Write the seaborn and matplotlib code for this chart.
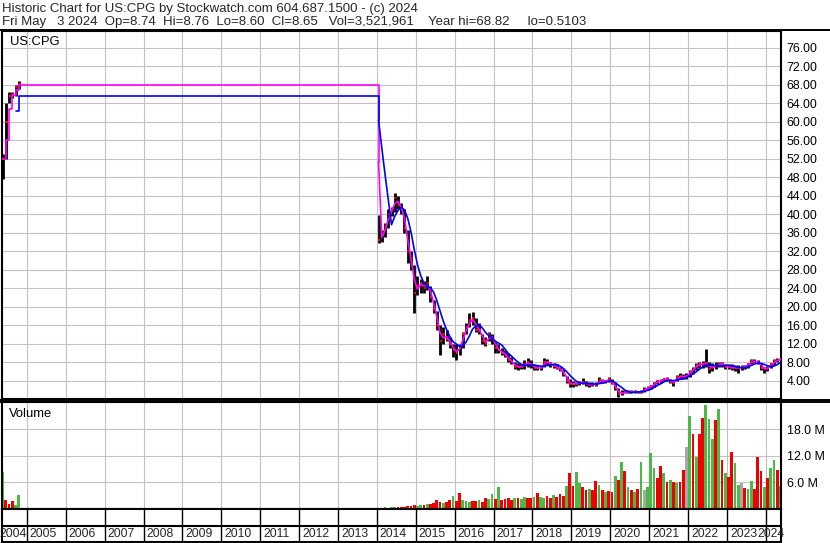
import numpy as np
import pandas as pd
import seaborn as sns
import matplotlib.pyplot as plt
from matplotlib.lines import Line2D

# monthly values (2004 stub, then 2014 -> May 2024)
months = pd.period_range('2004-05', '2004-10', freq='M').append(
    pd.period_range('2014-01', '2024-05', freq='M'))

close = [52.0, 60.0, 65.5, 66.0, 67.5, 68.2,
         34.5, 35.5, 37.5, 40.0, 41.0, 43.5, 42.0, 41.0, 37.0, 32.0, 29.0, 23.0,
         24.5, 25.0, 24.0, 25.0, 22.0, 19.5, 16.0, 12.5, 14.0, 13.0, 12.0, 10.5,
         10.0, 11.5, 14.0, 15.5, 17.0, 17.5, 15.0, 15.0, 12.5, 12.0, 14.0, 13.0,
         11.0, 10.5, 10.0, 9.5, 8.5, 8.0, 7.0, 7.0, 7.0, 7.5, 8.0, 7.3,
         6.8, 6.6, 6.8, 8.0, 8.0, 7.3, 7.2, 6.8, 6.3, 5.5, 4.0, 3.2,
         3.3, 3.3, 3.5, 3.6, 3.2, 3.0, 3.2, 3.1, 4.1, 3.8, 3.9, 4.3,
         3.5, 2.3, 1.0, 1.4, 1.5, 1.5, 1.5, 1.6, 1.5, 1.6, 2.2, 2.4,
         2.8, 3.4, 3.8, 4.0, 4.4, 4.3, 3.7, 3.5, 4.7, 5.0, 4.8, 5.0,
         5.8, 6.5, 7.3, 7.5, 7.6, 7.8, 6.5, 7.0, 7.2, 7.6, 7.6, 7.0,
         7.0, 6.7, 6.8, 6.6, 6.9, 7.0, 7.6, 8.2, 8.1, 7.9, 6.8, 6.4,
         6.7, 7.5, 8.2, 8.4, 8.65]

high = [53.0, 64.0, 66.4, 66.5, 68.0, 68.8,
        39.8, 36.5, 38.0, 41.0, 41.5, 44.5, 44.0, 42.5, 41.0, 36.5, 32.0, 29.0,
        26.5, 26.0, 25.5, 26.7, 24.5, 21.5, 19.0, 16.0, 15.5, 15.0, 13.5, 12.0,
        12.0, 12.0, 14.5, 16.5, 18.6, 18.8, 17.5, 16.4, 14.0, 13.5, 14.5, 14.0,
        12.5, 12.0, 11.0, 10.5, 10.0, 9.0, 8.0, 7.8, 7.5, 8.4, 8.9, 8.5,
        7.5, 7.3, 7.2, 8.9, 8.6, 8.0, 7.8, 7.5, 7.0, 6.5, 5.0, 4.3,
        3.8, 3.7, 3.9, 4.5, 3.8, 3.6, 3.6, 3.7, 4.8, 4.3, 4.2, 4.8,
        4.4, 3.6, 2.3, 1.9, 1.9, 2.0, 1.9, 1.9, 1.8, 1.9, 2.5, 2.8,
        3.1, 3.6, 4.2, 4.3, 4.6, 4.8, 4.3, 4.0, 5.2, 5.6, 5.4, 5.6,
        6.2, 7.0, 7.8, 7.9, 8.2, 10.8, 8.0, 7.8, 8.0, 8.1, 8.1, 7.6,
        7.6, 7.5, 7.3, 7.3, 7.3, 7.4, 7.8, 8.6, 8.6, 8.5, 7.8, 7.0,
        7.2, 7.7, 8.6, 8.9, 8.76]

low = [47.5, 52.0, 64.0, 65.0, 65.5, 67.0,
       33.7, 34.0, 35.0, 37.0, 39.5, 40.5, 41.0, 40.0, 36.0, 29.5, 28.0, 18.6,
       22.5, 23.0, 23.0, 23.5, 21.0, 18.6, 15.0, 9.5, 12.0, 12.5, 11.0, 9.0,
       8.5, 9.5, 11.0, 14.0, 15.5, 16.0, 14.5, 14.0, 12.0, 11.5, 12.5, 12.0,
       10.0, 10.0, 9.5, 9.0, 8.0, 7.5, 6.5, 6.3, 6.5, 6.5, 7.0, 6.8,
       6.3, 6.3, 6.3, 7.0, 7.3, 7.0, 6.8, 6.5, 6.0, 5.0, 3.5, 2.6,
       2.7, 2.9, 3.0, 3.2, 2.8, 2.7, 2.8, 2.8, 3.4, 3.4, 3.5, 3.7,
       3.3, 2.0, 0.5, 0.9, 1.2, 1.3, 1.3, 1.4, 1.3, 1.3, 1.6, 2.0,
       2.2, 2.7, 3.2, 3.5, 3.8, 3.9, 3.4, 2.9, 3.9, 4.4, 4.3, 4.3,
       4.8, 5.5, 6.3, 6.6, 6.8, 7.0, 5.6, 6.0, 6.4, 7.0, 6.9, 6.4,
       6.4, 6.2, 6.1, 5.6, 6.3, 6.4, 6.6, 7.6, 7.8, 7.6, 6.2, 5.7,
       6.0, 6.6, 7.3, 8.0, 8.6]

# volume in millions, colour per bar: g = up, r = down, n = unchanged
volume = [8.4, 2.0, 1.2, 1.8, 1.0, 3.2,
          0.3, 0.3, 0.4, 0.3, 0.4, 0.5, 0.4, 0.4, 0.5, 0.6, 0.6, 0.8,
          0.6, 0.8, 1.0, 1.1, 1.2, 1.4, 2.0, 1.6, 1.4, 1.6, 2.0, 3.0,
          1.8, 3.6, 2.0, 1.8, 1.6, 1.7, 1.8, 2.0, 1.6, 2.6, 2.2, 3.3,
          2.2, 5.0, 2.0, 2.3, 2.5, 2.0, 2.4, 2.6, 2.3, 2.8, 2.5, 2.6,
          2.8, 3.6, 2.8, 2.6, 3.0, 2.5, 3.2, 2.8, 3.4, 3.0, 5.2, 8.1,
          5.1, 8.3, 5.8, 5.0, 4.3, 4.5, 4.2, 6.3, 5.4, 4.4, 3.8, 4.0,
          3.8, 7.5, 6.5, 10.7, 8.5, 5.0, 4.3, 3.8, 4.6, 10.7, 4.4, 5.0,
          12.6, 9.2, 7.0, 9.8, 8.1, 6.2, 6.5, 6.0, 5.8, 6.0, 8.9, 14.1,
          21.1, 16.9, 11.8, 17.0, 20.6, 23.5, 20.4, 15.8, 20.2, 22.6, 11.1, 8.1,
          7.3, 12.8, 10.3, 5.5, 5.8, 4.8, 4.6, 6.3, 4.5, 11.8, 8.6, 5.0,
          7.0, 9.2, 11.1, 8.9, 5.1]
vol_dir = ("grrrgg" "rgggggrrrrrr" "ggrgrrrrgrrg" "rrgggrrgrrgg" "rgrrrrgrggrr"
           "grggrrgrrrgr" "rggrrgrrgrgr" "rgrgrgrgrgng" "ggrrgrgrgrrn"
           "grgrrgggrgrg" "rrggnrggrrrg" "rggrg")

price_ticks = list(range(4, 80, 4))
vol_ticks = [6, 12, 18]
years = list(range(2005, 2025))
header1 = 'Historic Chart for US:CPG by Stockwatch.com 604.687.1500 - (c) 2024'
header2 = ('Fri May   3 2024  Op=8.74  Hi=8.76  Lo=8.60  Cl=8.65   '
           'Vol=3,521,961    Year hi=68.82     lo=0.5103')

df = pd.DataFrame({'close': close, 'high': high, 'low': low, 'vol': volume})
df['t'] = months.year + (months.month - 0.5) / 12
df['ma_fast'] = df['close'].rolling(2, min_periods=1).mean()
df['ma_slow'] = df['close'].rolling(5).mean()
cmap = {'g': '#4cb848', 'r': '#f00000', 'n': '#a8a8a8'}
df['col'] = [cmap[c] for c in vol_dir]
n_old = 6  # rows before the 2004-2014 gap

sns.set_theme(style='white')
plt.rcParams['font.family'] = ['Liberation Sans', 'DejaVu Sans']

W, H = 830, 543
fig = plt.figure(figsize=(W / 100, H / 100), dpi=100)


def box(x0, y0, x1, y1):
    return [x0 / W, 1 - y1 / H, (x1 - x0) / W, (y1 - y0) / H]


ax = fig.add_axes(box(2, 31, 781, 399))
axv = fig.add_axes(box(2, 402, 781, 509))
axs = fig.add_axes(box(2, 509, 781, 542))
xlim = (2004.36, 2024.39)
gcol = '#c2c2c2'

for a in (ax, axv, axs):
    a.set_xlim(*xlim)
    for s in a.spines.values():
        s.set_color('black')
        s.set_linewidth(1.5)
        s.set_visible(True)


def grid_lines(a, yticks, ytop):
    # plain Line2D segments so they behave like the other lines
    for yv in yticks:
        a.plot([xlim[0], xlim[1]], [yv, yv], color=gcol, lw=0.8, zorder=1.5,
               solid_capstyle='butt')
    for xv in years:
        a.plot([xv, xv], [0, ytop], color=gcol, lw=0.8, zorder=1.5,
               solid_capstyle='butt')


# price panel
grid_lines(ax, price_ticks, 79.6)
ax.vlines(df['t'], df['low'], df['high'], color='black', lw=2.0, zorder=2)
ax.hlines(df['close'], df['t'] - 0.01, df['t'] + 0.045, color='red', lw=1.5, zorder=3)

# moving averages: held flat across the data gap, then plain lines
old = df.iloc[:n_old + 1]
new = df.iloc[n_old:]
for col, colour, z in (('ma_fast', '#ff00ff', 4), ('ma_slow', '#0000ff', 5)):
    sns.lineplot(data=old.dropna(subset=[col]), x='t', y=col, ax=ax, color=colour,
                 lw=1.2, drawstyle='steps-post', estimator=None, zorder=z)
    sns.lineplot(data=new, x='t', y=col, ax=ax, color=colour, lw=1.2,
                 estimator=None, zorder=z)

ax.set_xlim(*xlim)
ax.set_ylim(0, 79.6)
ax.set_xticks([])
ax.set_yticks(price_ticks)
ax.set_yticklabels([f'{v:.2f}' for v in price_ticks])
ax.yaxis.tick_right()
ax.tick_params(axis='y', length=0, pad=4.0, labelsize=8.9, labelcolor='black')
ax.set_xlabel('')
ax.set_ylabel('')
ax.text(8 / 779, 1 - 11 / 368, 'US:CPG', transform=ax.transAxes,
        fontsize=9.4, va='center', ha='left', color='black')

# volume panel
grid_lines(axv, vol_ticks, 24.2)
axv.bar(df['t'], df['vol'], width=0.85 / 12, color=df['col'], linewidth=0, zorder=2)
axv.set_xlim(*xlim)
axv.set_ylim(0, 24.2)
axv.set_xticks([])
axv.set_yticks(vol_ticks)
axv.set_yticklabels([f'{v:.1f} M' for v in vol_ticks])
axv.yaxis.tick_right()
axv.tick_params(axis='y', length=0, pad=4.0, labelsize=8.9, labelcolor='black')
axv.text(7 / 779, 1 - 12 / 107, 'Volume', transform=axv.transAxes,
         fontsize=9.4, va='center', ha='left', color='black')

# year strip
axs.set_ylim(0, 1)
axs.set_xticks([])
axs.set_yticks([])
axs.vlines(years, 0, 1, color='black', lw=1.0)
axs.axhline(0.5, color='black', lw=1.5)
off = 3 / 38.9
axs.text(xlim[0] - 0.06, 0.24, '2004', fontsize=8.8, va='center', ha='left')
for y in years[:-1]:
    axs.text(y + off, 0.24, str(y), fontsize=8.8, va='center', ha='left')
axs.text(xlim[1] + 4 / 38.9, 0.24, str(years[-1]), fontsize=8.8, va='center', ha='right')

# frame lines across the full width
for yy in (30, 399.5, 402):
    fig.add_artist(Line2D([0, 1], [1 - yy / H] * 2, color='black', lw=1.4,
                          transform=fig.transFigure))

fig.text(2 / W, 1 - 9 / H, header1, fontsize=9.5, va='center', ha='left')
fig.text(2 / W, 1 - 22.5 / H, header2, fontsize=9.5, va='center', ha='left')

fig.savefig('out.png', dpi=100)
